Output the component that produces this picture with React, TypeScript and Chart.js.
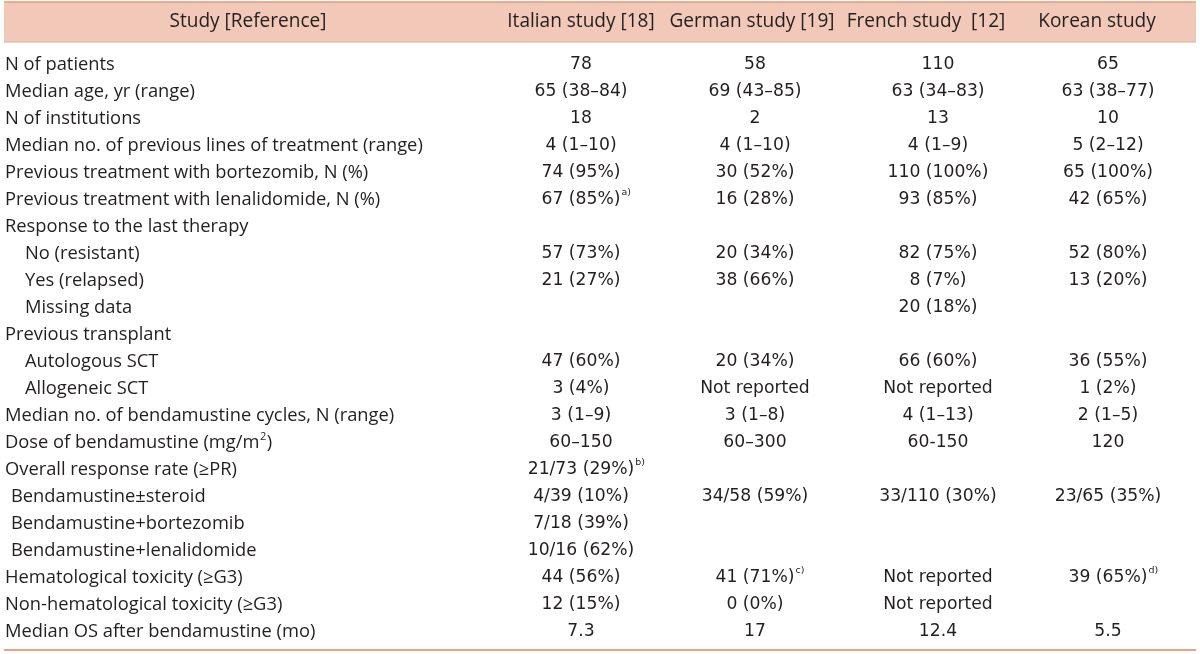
import React, { useEffect, useRef } from "react";
import { Chart, registerables } from "chart.js";

Chart.register(...registerables);

// ---------- data ----------
const headerLabels = ["Study [Reference]", "Italian study [18]", "German study [19]", "French study  [12]", "Korean study"];

const rowLabels = [
  "N of patients",
  "Median age, yr (range)",
  "N of institutions",
  "Median no. of previous lines of treatment (range)",
  "Previous treatment with bortezomib, N (%)",
  "Previous treatment with lenalidomide, N (%)",
  "Response to the last therapy",
  "No (resistant)",
  "Yes (relapsed)",
  "Missing data",
  "Previous transplant",
  "Autologous SCT",
  "Allogeneic SCT",
  "Median no. of bendamustine cycles, N (range)",
  "Dose of bendamustine (mg/m^2)",
  "Overall response rate (\u2265PR)",
  "Bendamustine\u00b1steroid",
  "Bendamustine+bortezomib",
  "Bendamustine+lenalidomide",
  "Hematological toxicity (\u2265G3)",
  "Non-hematological toxicity (\u2265G3)",
  "Median OS after bendamustine (mo)",
];

// indent level of each row label (0 = none, 1 = sub-item, 2 = slight)
const rowIndent = [0, 0, 0, 0, 0, 0, 0, 1, 1, 1, 0, 1, 1, 0, 0, 0, 2, 2, 2, 0, 0, 0];

const italian = [
  "78", "65 (38\u201384)", "18", "4 (1\u201310)", "74 (95%)", "67 (85%)^a)", "",
  "57 (73%)", "21 (27%)", "", "", "47 (60%)", "3 (4%)", "3 (1\u20139)", "60\u2013150",
  "21/73 (29%)^b)", "4/39 (10%)", "7/18 (39%)", "10/16 (62%)", "44 (56%)", "12 (15%)", "7.3",
];
const german = [
  "58", "69 (43\u201385)", "2", "4 (1\u201310)", "30 (52%)", "16 (28%)", "",
  "20 (34%)", "38 (66%)", "", "", "20 (34%)", "Not reported", "3 (1\u20138)", "60\u2013300",
  "", "34/58 (59%)", "", "", "41 (71%)^c)", "0 (0%)", "17",
];
const french = [
  "110", "63 (34\u201383)", "13", "4 (1\u20139)", "110 (100%)", "93 (85%)", "",
  "82 (75%)", "8 (7%)", "20 (18%)", "", "66 (60%)", "Not reported", "4 (1\u201313)", "60-150",
  "", "33/110 (30%)", "", "", "Not reported", "Not reported", "12.4",
];
const korean = [
  "65", "63 (38\u201377)", "10", "5 (2\u201312)", "65 (100%)", "42 (65%)", "",
  "52 (80%)", "13 (20%)", "", "", "36 (55%)", "1 (2%)", "2 (1\u20135)", "120",
  "", "23/65 (35%)", "", "", "39 (65%)^d)", "", "5.5",
];
const columns = [italian, german, french, korean];

// ---------- layout / style ----------
const W = 1200;
const H = 654;
const FIRST_ROW_Y = 65;
const ROW_H = 27;
const HEADER_TOP = 2;
const HEADER_BOTTOM = 42;
const HEADER_Y = 22;
const BOTTOM_LINE_Y = 650;
const LEFT_X = 5;
const INDENT = [0, 20, 6];
const HEADER_X = [248, 581, 752, 926, 1097];
const COL_CENTER = [581, 755, 938, 1108];
const FONT = "'Open Sans', 'Noto Sans', sans-serif";
const DATA_FONT = "'DejaVu Sans', 'Open Sans', sans-serif";
const LABEL_FIT_TEXT = "Median no. of previous lines of treatment (range)";
const LABEL_FIT_WIDTH = 418;
const HEADER_SIZE_RATIO = 1.04;
const DATA_SIZE = 17.2;
const TEXT_COLOR = "#231f20";
const BAND_COLOR = "#f2c8b8";
const LINE_COLOR = "#e39a7d";

function splitSup(s: string): [string, string] {
  const i = s.indexOf("^");
  if (i < 0) return [s, ""];
  return [s.slice(0, i), s.slice(i + 1)];
}

function labelSize(ctx: CanvasRenderingContext2D): number {
  ctx.font = `20px ${FONT}`;
  const w = ctx.measureText(LABEL_FIT_TEXT).width;
  return (20 * LABEL_FIT_WIDTH) / w;
}

const tablePlugin = {
  id: "tablePlugin",
  beforeDatasetsDraw(chart: any) {
    const ctx: CanvasRenderingContext2D = chart.ctx;
    const y = chart.scales.y;
    ctx.save();
    const LS = labelSize(ctx);
    // header band
    const yTop = y.getPixelForValue((HEADER_TOP - FIRST_ROW_Y) / ROW_H);
    const yBot = y.getPixelForValue((HEADER_BOTTOM - FIRST_ROW_Y) / ROW_H);
    ctx.fillStyle = BAND_COLOR;
    ctx.fillRect(4, yTop, W - 8, yBot - yTop);
    ctx.strokeStyle = LINE_COLOR;
    ctx.lineWidth = 1.5;
    ctx.beginPath();
    ctx.moveTo(4, yTop);
    ctx.lineTo(W - 4, yTop);
    ctx.stroke();
    ctx.lineWidth = 1;
    ctx.strokeStyle = "#e6ab93";
    ctx.beginPath();
    ctx.moveTo(4, yBot);
    ctx.lineTo(W - 4, yBot);
    ctx.stroke();
    const yB = y.getPixelForValue((BOTTOM_LINE_Y - FIRST_ROW_Y) / ROW_H);
    ctx.lineWidth = 2;
    ctx.strokeStyle = "#e8a287";
    ctx.beginPath();
    ctx.moveTo(4, yB);
    ctx.lineTo(W - 4, yB);
    ctx.stroke();

    // header text
    const yh = y.getPixelForValue((HEADER_Y - FIRST_ROW_Y) / ROW_H);
    ctx.fillStyle = TEXT_COLOR;
    ctx.font = `${LS * HEADER_SIZE_RATIO}px ${FONT}`;
    ctx.textAlign = "center";
    ctx.textBaseline = "middle";
    headerLabels.forEach((h, i) => ctx.fillText(h, HEADER_X[i], yh));

    // row labels
    ctx.textAlign = "left";
    rowLabels.forEach((lab, i) => {
      const py = y.getPixelForValue(i);
      let x = LEFT_X + INDENT[rowIndent[i]];
      const [base, sup] = splitSup(lab);
      ctx.font = `${LS}px ${FONT}`;
      ctx.fillText(base, x, py);
      x += ctx.measureText(base).width;
      if (sup) {
        ctx.font = `${LS * 0.6}px ${FONT}`;
        ctx.fillText(sup.slice(0, 1), x + 0.5, py - 6);
        x += ctx.measureText(sup.slice(0, 1)).width + 1;
        ctx.font = `${LS}px ${FONT}`;
        ctx.fillText(sup.slice(1), x, py);
      }
    });
    ctx.restore();
  },
  afterDatasetsDraw(chart: any) {
    const ctx: CanvasRenderingContext2D = chart.ctx;
    ctx.save();
    ctx.fillStyle = TEXT_COLOR;
    ctx.textBaseline = "middle";
    ctx.textAlign = "left";
    chart.data.datasets.forEach((ds: any, di: number) => {
      const meta = chart.getDatasetMeta(di);
      meta.data.forEach((el: any, i: number) => {
        const raw = ds.data[i].text as string;
        if (!raw) return;
        const [base, sup] = splitSup(raw);
        ctx.font = `${DATA_SIZE}px ${DATA_FONT}`;
        const wBase = ctx.measureText(base).width;
        const x0 = el.x - wBase / 2;
        ctx.fillText(base, x0, el.y);
        if (sup) {
          ctx.font = `${DATA_SIZE * 0.55}px ${DATA_FONT}`;
          ctx.fillText(sup, x0 + wBase + 1, el.y - 7);
        }
      });
    });
    ctx.restore();
  },
};

export default function App() {
  const ref = useRef<HTMLCanvasElement | null>(null);
  useEffect(() => {
    if (!ref.current) return;
    const datasets = columns.map((col, ci) => ({
      label: headerLabels[ci + 1],
      data: col.map((t, ri) => ({ x: COL_CENTER[ci], y: ri, text: t })),
      pointRadius: 0,
      showLine: false,
    }));
    const chart = new Chart(ref.current, {
      type: "scatter",
      data: { datasets },
      options: {
        responsive: false,
        animation: false,
        layout: { padding: 0 },
        plugins: { legend: { display: false }, tooltip: { enabled: false } },
        scales: {
          x: { type: "linear", display: false, min: 0, max: W },
          y: {
            type: "linear",
            display: false,
            reverse: true,
            min: -FIRST_ROW_Y / ROW_H,
            max: (H - FIRST_ROW_Y) / ROW_H,
          },
        },
      },
      plugins: [tablePlugin],
    });
    return () => chart.destroy();
  }, []);
  return (
    <div style={{ position: "fixed", left: 0, top: 0, width: W, height: H, background: "#fff" }}>
      <canvas ref={ref} width={W} height={H} style={{ width: W, height: H, display: "block" }} />
    </div>
  );
}
